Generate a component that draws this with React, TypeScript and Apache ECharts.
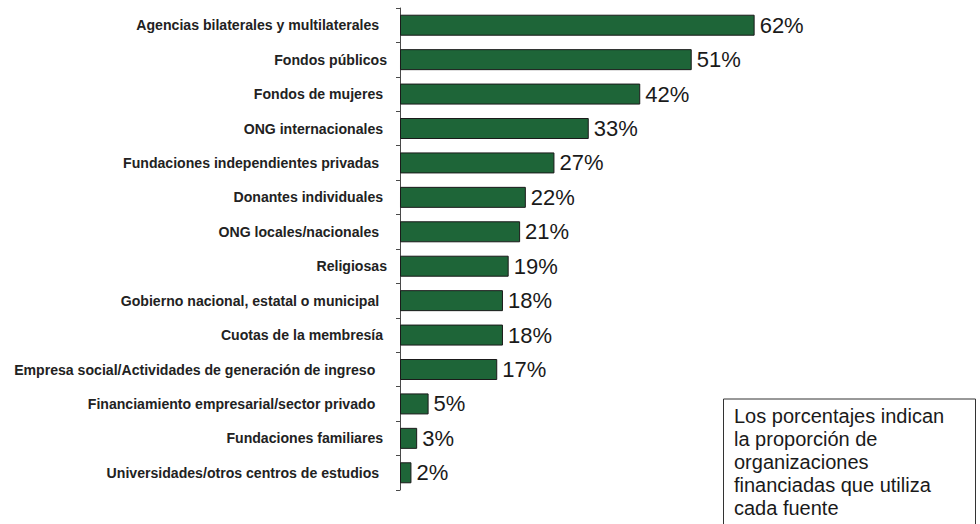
import React, { useEffect, useRef } from "react";
import * as echarts from "echarts";

const categories: string[] = [
  "Agencias bilaterales y multilaterales  ",
  "Fondos públicos",
  "Fondos de mujeres ",
  "ONG internacionales ",
  "Fundaciones independientes privadas  ",
  "Donantes individuales ",
  "ONG locales/nacionales  ",
  "Religiosas",
  "Gobierno nacional, estatal o municipal  ",
  "Cuotas de la membresía ",
  "Empresa social/Actividades de generación de ingreso   ",
  "Financiamiento empresarial/sector privado   ",
  "Fundaciones familiares ",
  "Universidades/otros centros de estudios  ",
];

const values: number[] = [62, 51, 42, 33, 27, 22, 21, 19, 18, 18, 17, 5, 3, 2];

const noteLines: string[] = [
  "Los porcentajes indican",
  "la proporción de",
  "organizaciones",
  "financiadas que utiliza",
  "cada fuente",
];

export default function App() {
  const ref = useRef<HTMLDivElement>(null);

  useEffect(() => {
    if (!ref.current) return;
    const chart = echarts.init(ref.current, null, { renderer: "svg" });
    chart.setOption({
      animation: false,
      backgroundColor: "#ffffff",
      grid: { left: 400, top: 8, width: 400.4, height: 482, containLabel: false },
      xAxis: {
        type: "value",
        min: 0,
        max: 70,
        show: false,
      },
      yAxis: {
        type: "category",
        inverse: true,
        data: categories,
        axisLine: { show: true, lineStyle: { color: "#4a4a4a", width: 1 } },
        axisTick: { show: true, length: 4, lineStyle: { color: "#4a4a4a" } },
        axisLabel: {
          margin: 13,
          color: "#222222",
          fontFamily: "Liberation Sans, Arial, sans-serif",
          fontWeight: "bold",
          fontSize: 14.1,
        },
        splitLine: { show: false },
      },
      series: [
        {
          type: "bar",
          data: values,
          barWidth: 21,
          itemStyle: { color: "#1e6538", borderColor: "#1a1a1a", borderWidth: 1 },
          label: {
            show: true,
            position: "right",
            distance: 5,
            formatter: "{c}%",
            color: "#1a1a1a",
            fontFamily: "Liberation Sans, Arial, sans-serif",
            fontSize: 22,
          },
        },
      ],
      graphic: [
        {
          type: "rect",
          left: 723,
          top: 398.5,
          shape: { width: 252, height: 160 },
          style: { fill: "#ffffff", stroke: "#333333", lineWidth: 1 },
        },
        {
          type: "text",
          left: 734,
          top: 404,
          style: {
            text: noteLines.join("\n"),
            font: "20px 'Liberation Sans', Arial, sans-serif",
            fill: "#1a1a1a",
            lineHeight: 23,
          },
        },
      ],
    });
    return () => chart.dispose();
  }, []);

  return (
    <div
      ref={ref}
      style={{ position: "absolute", left: 0, top: 0, width: 980, height: 524 }}
    />
  );
}
